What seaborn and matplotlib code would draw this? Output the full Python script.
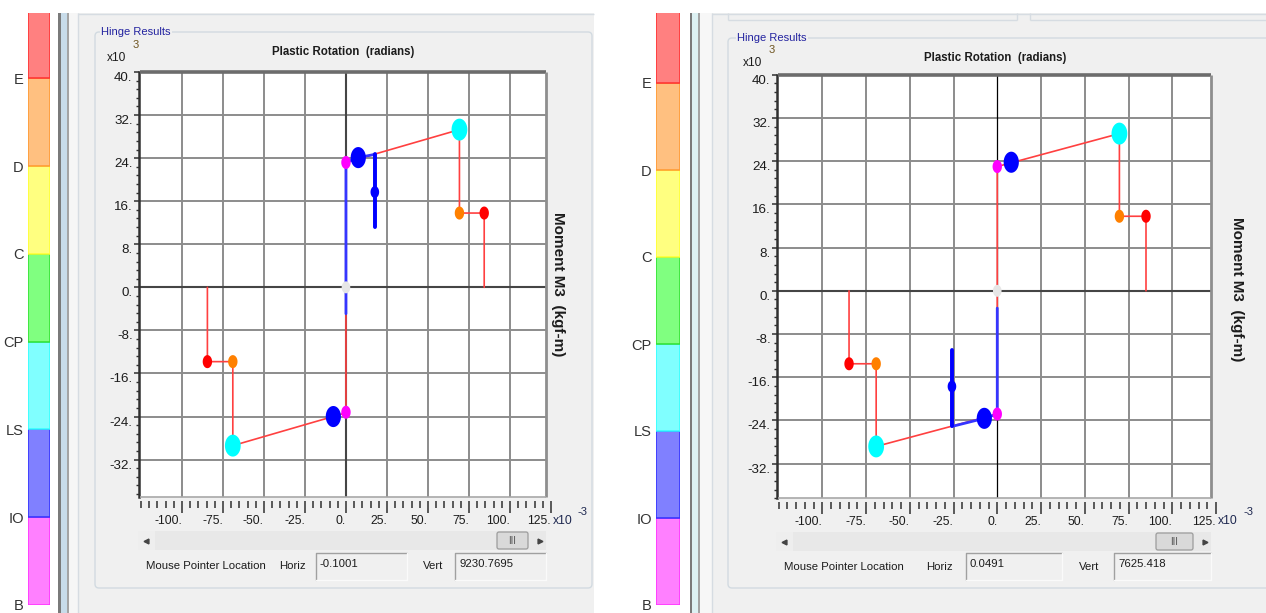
import matplotlib
matplotlib.use("Agg")
import matplotlib.pyplot as plt
import seaborn as sns
import numpy as np
from matplotlib.path import Path
from matplotlib.markers import MarkerStyle
from matplotlib.patches import Rectangle, FancyBboxPatch
from matplotlib.ticker import MultipleLocator

sns.set_theme(style="white")
plt.rcParams['font.family'] = ['Liberation Sans', 'DejaVu Sans']

W, H = 1266, 613

# ---- du lieu (x: 1e-3 rad, y: 1e3 kgf-m) ----
state_names = ['B', 'IO', 'LS', 'CP', 'C', 'D', 'E']
x_ticks = [-100, -75, -50, -25, 0, 25, 50, 75, 100, 125]
y_ticks = [-32, -24, -16, -8, 0, 8, 16, 24, 32, 40]
point_kind = ['A', 'B', 'B', 'IO', 'IO', 'C', 'C', 'D', 'D', 'E', 'E', 'now']

# khop ben trai
left_backbone_x = [-84.5, -84.5, -69.0, -69.0, 0.0, 0.0, 69.2, 69.2, 84.3, 84.3]
left_backbone_y = [0.0, -13.8, -13.8, -29.4, -23.3, 23.2, 29.3, 13.8, 13.8, 0.0]
left_path_x = [0.0, 0.0, 7.5, 17.6, 17.6]
left_path_y = [-4.9, 23.2, 24.1, 24.7, 11.2]
left_pt_x = [0.0, 0.0, 0.0, 7.5, -7.7, 69.2, -69.0, 69.2, -69.0, 84.3, -84.5, 17.6]
left_pt_y = [0.0, 23.2, -23.2, 24.1, -24.0, 29.3, -29.4, 13.8, -13.8, 13.8, -13.8, 17.7]
left_horiz, left_vert = '-0.1001', '9230.7695'

# khop ben phai
right_backbone_x = [-84.7, -84.7, -69.2, -69.2, 0.0, 0.0, 69.8, 69.8, 85.0, 85.0]
right_backbone_y = [0.0, -13.5, -13.5, -28.8, -22.8, 23.0, 29.1, 13.8, 13.8, 0.0]
right_path_x = [0.0, 0.0, -7.4, -25.9, -25.9]
right_path_y = [-3.2, -22.8, -23.6, -25.1, -11.0]
right_pt_x = [0.0, 0.0, 0.0, 8.0, -7.4, 69.8, -69.2, 69.8, -69.2, 85.0, -84.7, -25.9]
right_pt_y = [0.0, 23.0, -22.8, 23.8, -23.6, 29.1, -28.8, 13.8, -13.5, 13.8, -13.5, -17.7]
right_horiz, right_vert = '0.0491', '7625.418'

# ---- mau sac ----
band_fill = {'B': '#FF80FF', 'IO': '#8080FF', 'LS': '#80FFFF', 'CP': '#80FF80',
             'C': '#FFFF80', 'D': '#FFC080', 'E': '#FF8080'}
band_edge = {'B': '#FF30FF', 'IO': '#3030FF', 'LS': '#30FFFF', 'CP': '#30E030',
             'C': '#FFFF30', 'D': '#FF9830', 'E': '#FF3030'}
point_color = {'A': '#E6E6E6', 'B': '#FF00FF', 'IO': '#0000FF', 'C': '#00FFFF',
               'D': '#FF8000', 'E': '#FF0000', 'now': '#0000FF'}
point_size = {'A': 8.6 ** 2, 'B': 9.4 ** 2, 'IO': 15.2 ** 2, 'C': 15.8 ** 2,
              'D': 9.4 ** 2, 'E': 9.4 ** 2, 'now': 8.6 ** 2}

t = np.linspace(0, 2 * np.pi, 60)
ellipse = MarkerStyle(Path(np.column_stack([0.72 * np.cos(t), np.sin(t)]), closed=False))

PANEL = '#F0F0F0'
TXT = '#1c1c1c'

fig = plt.figure(figsize=(W / 100, H / 100), dpi=100, facecolor='white')


def px_axes(x0, y0, x1, y1, **kw):
    return fig.add_axes([x0 / W, 1 - y1 / H, (x1 - x0) / W, (y1 - y0) / H], **kw)


bg = fig.add_axes([0, 0, 1, 1], zorder=0)
bg.set_xlim(0, W)
bg.set_ylim(H, 0)
bg.axis('off')


def rect(x0, y0, x1, y1, **kw):
    bg.add_patch(Rectangle((x0, y0), x1 - x0, y1 - y0, **kw))


def hline(x0, x1, y, color, lw=1.0):
    bg.plot([x0, x1], [y, y], color=color, lw=lw, solid_capstyle='butt')


def vline(x, y0, y1, color, lw=1.0):
    bg.plot([x, x], [y0, y1], color=color, lw=lw, solid_capstyle='butt')


def draw_state_bar(x0, x1, top, bottom, band):
    ax = px_axes(x0, top, x1, bottom, zorder=1)
    ax.patch.set_alpha(0)
    ax.bar([0.5] * 7, [1] * 7, bottom=list(range(7)), width=1,
           color=[band_fill[s] for s in state_names],
           edgecolor=[band_edge[s] for s in state_names], linewidth=1.1)
    ax.set_xlim(0, 1)
    ax.set_ylim(0, (bottom - top) / band)
    ax.set_yticks(range(7), state_names)
    ax.set_xticks([])
    ax.tick_params(axis='y', left=False, length=0, pad=3, labelsize=10.5,
                   labelcolor='#333333')
    for s in ax.spines.values():
        s.set_visible(False)


def draw_hinge(box, lims, bb_x, bb_y, path_x, path_y, pt_x, pt_y, zero_col, zero_lw):
    x0, y0, x1, y1 = box
    xl, xr, yb, yt = lims
    ax = px_axes(x0, y0, x1, y1, zorder=1)
    ax.patch.set_alpha(0)
    ax.add_patch(Rectangle((xl, yb), xr - xl, yt - yb, facecolor='white',
                           edgecolor='none', zorder=0))
    grid_x = [v for v in x_ticks if xl < v < xr and v != 0]
    grid_y = [v for v in y_ticks if yb < v < yt and v != 0]
    ax.vlines(grid_x, yb, yt, color='#8c8c8c', lw=1.4, zorder=1)
    ax.hlines(grid_y, xl, xr, color='#8c8c8c', lw=1.4, zorder=1)
    ax.hlines(0, xl, xr, color='#454545', lw=1.5, zorder=1)
    ax.vlines(0, yb, yt, color=zero_col, lw=zero_lw, zorder=1)

    sns.lineplot(x=bb_x, y=bb_y, sort=False, estimator=None, color='#FF4040',
                 linewidth=1.2, ax=ax, zorder=2)
    sns.lineplot(x=path_x, y=path_y, sort=False, estimator=None, color='#3535FF',
                 linewidth=2.0, ax=ax, zorder=3)
    sns.lineplot(x=path_x[-2:], y=path_y[-2:], sort=False, estimator=None,
                 color='#0000FF', linewidth=2.8, ax=ax, zorder=3)
    sns.scatterplot(x=pt_x, y=pt_y, hue=point_kind, palette=point_color,
                    size=point_kind, sizes=point_size, marker=ellipse,
                    linewidth=0, edgecolor='none', legend=False, ax=ax, zorder=5)

    # khung
    ax.plot([xl, xr], [yt, yt], color='#6c6c6c', lw=2.6, solid_capstyle='butt', clip_on=False, zorder=6)
    ax.plot([xr, xr], [yb, yt], color='#8e8e8e', lw=2.0, solid_capstyle='butt', clip_on=False, zorder=6)
    ax.plot([xl, xr], [yb, yb], color='#a8a8a8', lw=1.2, solid_capstyle='butt', clip_on=False, zorder=6)

    ax.set_xlim(xl, 125.4)
    ax.set_ylim(yb, yt)
    ax.set_xlabel('')
    ax.set_ylabel('')
    ax.spines['top'].set_visible(False)
    ax.spines['right'].set_visible(False)
    ax.spines['bottom'].set_position(('outward', 2.5))
    ax.spines['bottom'].set_visible(False)
    ax.spines['left'].set_position(('outward', 1))
    ax.spines['left'].set_color('#303030')
    ax.spines['left'].set_linewidth(1.8)

    ax.set_xticks(x_ticks, [f'{v}.' for v in x_ticks])
    ax.xaxis.set_minor_locator(MultipleLocator(5))
    ax.set_yticks(y_ticks, [f'{v}.' for v in y_ticks])
    ax.yaxis.set_minor_locator(MultipleLocator(1.6))
    ax.tick_params(axis='x', which='major', bottom=True, direction='out', length=8.5,
                   width=1.1, color='#303030', pad=1.5, labelsize=8.8, labelcolor=TXT)
    ax.tick_params(axis='x', which='minor', bottom=True, direction='out', length=5,
                   width=1.1, color='#303030')
    ax.tick_params(axis='y', which='major', left=True, direction='out', length=3.5,
                   width=1.1, color='#303030', pad=0.8, labelsize=9.6, labelcolor=TXT)
    ax.tick_params(axis='y', which='minor', left=True, direction='out', length=2,
                   width=1.0, color='#303030')
    plt.setp(ax.get_xticklabels(), ha='right')
    plt.setp(ax.get_yticklabels(), va='top')
    return ax


def draw_footer(sx0, sx1, sy, thumb0, thumb1, mx, hx, b1, vx, b2, horiz, vert, ty):
    # thanh cuon
    rect(sx0, sy, sx1, sy + 19, facecolor='#E8E8E8', edgecolor='none')
    rect(sx0, sy, sx0 + 17, sy + 19, facecolor='#EEEEEE', edgecolor='none')
    bg.add_patch(FancyBboxPatch((thumb0, sy + 1), thumb1 - thumb0, 17,
                                boxstyle='round,pad=0,rounding_size=2',
                                facecolor='#D9D9D9', edgecolor='#9C9C9C', lw=0.9))
    bg.text((thumb0 + thumb1) / 2, sy + 10, 'III', ha='center', va='center',
            fontsize=7, color='#555555')
    bg.plot([sx0 + 8], [sy + 10], marker='<', ms=3.5, color='#444444', ls='none')
    bg.plot([sx1 - 6], [sy + 10], marker='>', ms=3.5, color='#444444', ls='none')
    # toa do chuot
    bg.text(mx, ty, 'Mouse Pointer Location', ha='left', va='center', fontsize=8.2, color=TXT)
    bg.text(hx, ty, 'Horiz', ha='left', va='center', fontsize=8.2, color=TXT)
    bg.text(vx, ty, 'Vert', ha='left', va='center', fontsize=8.2, color=TXT)
    for (bx0, bx1), val in [(b1, horiz), (b2, vert)]:
        bg.plot([bx0, bx0, bx1], [580, 553, 553], color='#A0A0A0', lw=1)
        bg.plot([bx0, bx1, bx1], [580, 580, 553], color='#FAFAFA', lw=1)
        bg.text(bx0 + 4, 564, val, ha='left', va='center', fontsize=8.2, color=TXT)


# ---- nen, cac vach ngan ----
rect(68, 13, 594, H, facecolor=PANEL, edgecolor='none')
rect(700, 13, W, H, facecolor=PANEL, edgecolor='none')
rect(58, 13, 61, H, facecolor='#7A7A7A', edgecolor='none')
rect(61, 13, 67, H, facecolor='#C8DCEA', edgecolor='none')
rect(67, 13, 69, H, facecolor='#A4A4A4', edgecolor='none')
rect(69, 13, 78, H, facecolor='#F6F6F6', edgecolor='none')
vline(78, 13, H, '#D6DCE2')
hline(78, 594, 13.5, '#D6DCE2')
rect(690, 13, 692, H, facecolor='#7A7A7A', edgecolor='none')
rect(692, 13, 698, H, facecolor='#DDF1F3', edgecolor='none')
rect(698, 13, 700, H, facecolor='#A4A4A4', edgecolor='none')
rect(700, 13, 712, H, facecolor='#F7F7F7', edgecolor='none')
vline(712, 13, H, '#D6DCE2')
hline(712, W, 13.5, '#D6DCE2')
hline(728, 1017, 20, '#D6DCE2')
hline(1030, W, 20, '#D6DCE2')
vline(728, 13, 20, '#D6DCE2')
vline(1017, 13, 20, '#D6DCE2')
vline(1030, 13, 20, '#D6DCE2')

# khung nhom "Hinge Results"
bg.add_patch(FancyBboxPatch((95, 32), 497, 556, boxstyle='round,pad=0,rounding_size=4',
                            facecolor='none', edgecolor='#D2DAE1', lw=1))
bg.add_patch(FancyBboxPatch((728, 38), 560, 550, boxstyle='round,pad=0,rounding_size=4',
                            facecolor='none', edgecolor='#D2DAE1', lw=1))
for x, y in [(101, 32), (737, 38)]:
    bg.text(x, y, 'Hinge Results', ha='left', va='center', fontsize=8, color='#2323A0',
            bbox=dict(facecolor=PANEL, edgecolor='none', pad=1))

# ---- thanh trang thai mau ----
draw_state_bar(28, 50, 13, 605, 87.8)
draw_state_bar(656, 680, 13, 605, 87.0)

# ---- do thi khop ----
draw_hinge((140, 72, 551.6, 497.3), (-125.6, 122.0, -39.0, 40.0),
           left_backbone_x, left_backbone_y, left_path_x, left_path_y,
           left_pt_x, left_pt_y, '#454545', 1.5)
draw_hinge((778, 74.7, 1216.7, 498.3), (-125.3, 122.1, -38.4, 40.0),
           right_backbone_x, right_backbone_y, right_path_x, right_path_y,
           right_pt_x, right_pt_y, '#000000', 0.9)

# tieu de, nhan truc
for cx, cy in [(343, 52), (995, 58)]:
    bg.text(cx, cy, 'Plastic Rotation  (radians)', ha='center', va='center',
            fontsize=8.3, fontweight='bold', color=TXT)
for cx, cy in [(558, 284), (1237, 289)]:
    bg.text(cx, cy, 'Moment M3  (kgf-m)', ha='center', va='center', rotation=-90,
            fontsize=11, fontweight='bold', color=TXT)
for x, y in [(107, 58), (743, 63)]:
    bg.text(x, y, 'x10', ha='left', va='center', fontsize=8.6, color=TXT)
    bg.text(x + 26, y - 13, '3', ha='left', va='center', fontsize=8, color='#6E5420')
for x, y in [(553, 521), (1218, 521)]:
    bg.text(x, y, 'x10', ha='left', va='center', fontsize=8.8, color='#1E2850')
    bg.text(x + 25, y - 9, '-3', ha='left', va='center', fontsize=8, color='#1E2850')

# ---- phan duoi ----
draw_footer(138, 546, 531, 497, 528, 146, 279, (316, 407), 423, (455, 546),
            left_horiz, left_vert, 566)
draw_footer(776, 1211, 532, 1156, 1193, 784, 926, (966, 1062), 1079, (1114, 1211),
            right_horiz, right_vert, 567)

fig.savefig('out.png', dpi=100, facecolor='white')
